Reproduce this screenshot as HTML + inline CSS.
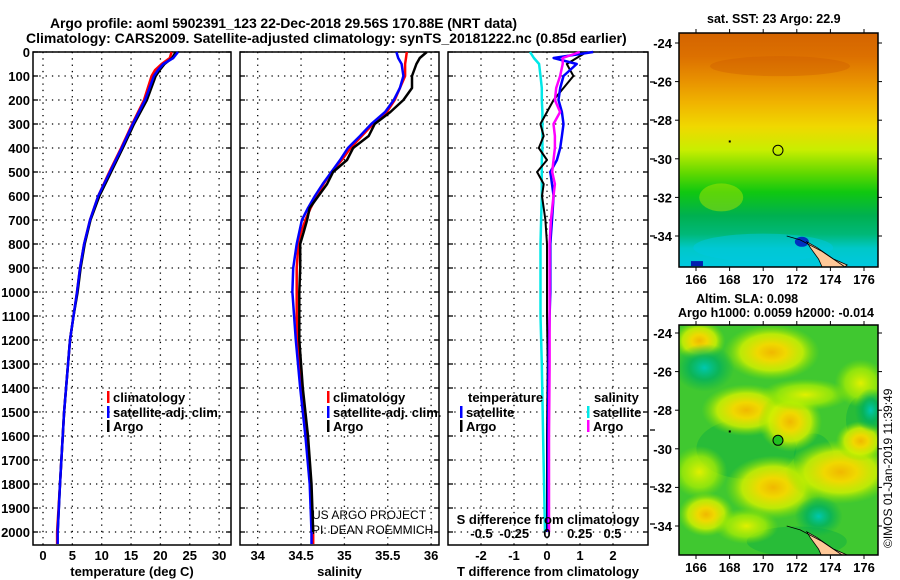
<!DOCTYPE html>
<html><head><meta charset="utf-8"><style>
html,body{margin:0;padding:0;background:#fff;}
svg{display:block;font-family:"Liberation Sans",sans-serif;font-weight:bold;}
</style></head><body>
<svg id="chart" width="900" height="580" viewBox="0 0 900 580">
<defs>
<linearGradient id="sstgrad" x1="0" y1="0" x2="0" y2="1">
<stop offset="0" stop-color="#d46400"/><stop offset="0.1" stop-color="#dc7000"/>
<stop offset="0.2" stop-color="#e89000"/><stop offset="0.3" stop-color="#f0b400"/>
<stop offset="0.4" stop-color="#f0d800"/><stop offset="0.5" stop-color="#c8ee00"/>
<stop offset="0.6" stop-color="#60d800"/><stop offset="0.68" stop-color="#10c810"/>
<stop offset="0.78" stop-color="#00b050"/><stop offset="0.86" stop-color="#00b878"/>
<stop offset="0.92" stop-color="#00c8c8"/><stop offset="1" stop-color="#00c8e0"/>
</linearGradient>
<radialGradient id="yb"><stop offset="0" stop-color="#f0b800"/><stop offset="0.3" stop-color="#f0d800"/><stop offset="0.65" stop-color="#d0f000" stop-opacity="0.85"/><stop offset="1" stop-color="#80e000" stop-opacity="0"/></radialGradient>
<radialGradient id="yw"><stop offset="0" stop-color="#e0f000"/><stop offset="0.6" stop-color="#b0f000" stop-opacity="0.7"/><stop offset="1" stop-color="#80e000" stop-opacity="0"/></radialGradient>
<radialGradient id="cb"><stop offset="0" stop-color="#00c8b0"/><stop offset="0.5" stop-color="#00b060" stop-opacity="0.8"/><stop offset="1" stop-color="#00b050" stop-opacity="0"/></radialGradient>
<clipPath id="m1c"><rect x="679" y="33" width="199" height="234"/></clipPath>
<clipPath id="m2c"><rect x="679" y="325" width="199" height="230"/></clipPath>
</defs>
<text x="50" y="28" font-size="14" textLength="467">Argo profile: aoml 5902391_123 22-Dec-2018 29.56S 170.88E (NRT data)</text>
<text x="26" y="43" font-size="14">Climatology: CARS2009. Satellite-adjusted climatology: synTS_20181222.nc (0.85d earlier)</text>
<g id="panels"></g>
<g id="maps"></g>
</svg>
<script>
// ---------- data ----------
const tDepth = [0,25,50,75,100,200,300,400,500,600,700,800,900,1000,1100,1200,1500,1800,2000,2050];
const tClim  = [21.9,21.6,20.2,19.1,18.5,17.2,15.2,13.3,11.3,9.4,8.0,7.0,6.3,5.8,5.2,4.6,3.6,2.9,2.4,2.4];
const tSat   = [23.0,22.2,20.5,19.6,18.9,17.4,15.3,13.4,11.4,9.4,8.0,7.0,6.3,5.8,5.2,4.6,3.6,2.9,2.5,2.5];
const tArgo  = [22.6,22.0,20.7,19.9,19.2,17.7,15.5,13.6,11.6,9.6,8.1,7.1,6.4,5.9,5.2,4.6,3.6,2.9,2.5];
const sDepth = [0,25,50,100,150,200,250,300,350,400,450,500,550,600,650,700,750,800,900,1000,1100,1200,1400,1600,1800,2000,2050];
const sClim  = [35.72,35.71,35.70,35.70,35.64,35.58,35.49,35.33,35.20,35.07,34.97,34.85,34.76,34.68,34.61,34.55,34.50,34.47,34.45,34.45,34.45,34.46,34.51,34.57,34.61,34.64,34.64];
const sSat   = [35.60,35.62,35.66,35.68,35.64,35.57,35.47,35.31,35.18,35.04,34.95,34.85,34.75,34.66,34.58,34.51,34.48,34.45,34.41,34.40,34.42,34.44,34.49,34.55,34.60,34.62,34.62];
const sArgo  = [35.95,35.87,35.83,35.78,35.78,35.68,35.53,35.35,35.28,35.10,35.03,34.87,34.80,34.70,34.60,34.57,34.53,34.49,34.49,34.48,34.48,34.48,34.52,34.58,34.62,34.64];
const dDepth = [0,25,50,100,150,200,250,300,350,400,450,500,550,600,700,800,1000,1100,1300,1600,2000];
const dTSat  = [1.4,0.2,0.9,0.5,0.4,0.35,0.45,0.5,0.45,0.4,0.3,0.1,0.15,0.2,0.15,0.1,0.1,0.08,0.05,0.03,0.03];
const dTArgo = [1.2,0.9,0.6,0.8,0.5,0.2,0.0,-0.2,-0.1,-0.25,0.0,-0.3,-0.1,-0.15,-0.05,0.0,0.0,0.0,0.02,0.0,0.0];
const dSSat  = [-0.13,-0.1,-0.06,-0.05,-0.04,-0.04,-0.035,-0.035,-0.035,-0.035,-0.04,-0.04,-0.04,-0.04,-0.045,-0.05,-0.05,-0.05,-0.04,-0.03,-0.015];
const dSArgo = [0.25,0.12,0.12,0.1,0.07,0.06,0.1,0.05,0.06,0.06,0.05,0.04,0.06,0.05,0.03,0.02,0.02,0.02,0.02,0.015,0.015];
const depthTicks = [0,100,200,300,400,500,600,700,800,900,1000,1100,1200,1300,1400,1500,1600,1700,1800,1900,2000];
const tTicks = [0,5,10,15,20,25,30];
const sTicks = [34,34.5,35,35.5,36];
const sTickLabels = ["34","34.5","35","35.5","36"];
const dtTicks = [-2,-1,0,1,2];
const dsTicks = [-0.5,-0.25,0,0.25,0.5];
const dsTickLabels = ["-0.5","-0.25","0","0.25","0.5"];
const lonTicks = [166,168,170,172,174,176];
const latTicks = [-24,-26,-28,-30,-32,-34];

// ---------- helpers ----------
const NS="http://www.w3.org/2000/svg";
const root=document.getElementById('panels');
function mk(tag,attrs,parent){const e=document.createElementNS(NS,tag);for(const k in attrs)e.setAttribute(k,attrs[k]);(parent||root).appendChild(e);return e;}
const Y0=52, PY=0.24, YB=545;
const yD = d => Y0 + d*PY;

function panel(x0,x1,xs,ticks,labels,xlabel,name){
  const g=mk('g',{});
  
  
  depthTicks.forEach(d=>{
    mk('line',{x1:x0,x2:x1,y1:yD(d),y2:yD(d),stroke:'#000','stroke-width':1.3,'stroke-dasharray':'1.3 5'},g);
    mk('line',{x1:x0,x2:x0+5,y1:yD(d),y2:yD(d),stroke:'#000','stroke-width':1.3},g);
    mk('line',{x1:x1-5,x2:x1,y1:yD(d),y2:yD(d),stroke:'#000','stroke-width':1.3},g);
  });
  ticks.forEach((v,i)=>{
    const x=xs(v);
    mk('line',{x1:x,x2:x,y1:Y0,y2:YB,stroke:'#000','stroke-width':1.3,'stroke-dasharray':'1.3 5'},g);
    if(labels){const t=mk('text',{x:x,y:560,'font-size':13,'text-anchor':'middle'},g);t.textContent=labels[i];
      
      }
  });
  mk('rect',{x:x0,y:Y0,width:x1-x0,height:YB-Y0,fill:'none',stroke:'#000','stroke-width':1.5},g);
  const t=mk('text',{x:(x0+x1)/2,y:576,'font-size':13,'text-anchor':'middle'},g);t.textContent=xlabel;
  
  
  return g;
}
function line(g,xs,vals,depths,color,w,name){
  const pts=vals.map((v,i)=>xs(v).toFixed(1)+','+yD(depths[i]).toFixed(1)).join(' ');
  const p=mk('polyline',{points:pts,fill:'none',stroke:color,'stroke-width':w,'stroke-linejoin':'round'},g);
  
  
}
function legend(g,x,y,color,label){
  mk('rect',{x:x,y:y-6,width:2.5,height:12,fill:color},g);
  const t=mk('text',{x:x+6,y:y+5,'font-size':13},g);t.textContent=label;
  
  
}

depthTicks.forEach(d=>{const t=mk('text',{x:30,y:yD(d)+5,'font-size':13,'text-anchor':'end'});t.textContent=d;
  
  });

// Panel 1: temperature
const xT = v => 43 + v*5.87;
const g1=panel(33,231,xT,tTicks,tTicks.map(String),'temperature (deg C)','temperature-panel');
line(g1,xT,tClim,tDepth,'#ff0000',2.5,'temperature-climatology-line');
line(g1,xT,tArgo,tDepth,'#000',2.5,'temperature-argo-line');
line(g1,xT,tSat,tDepth,'#0000ff',2.5,'temperature-satellite-line');
legend(g1,107,397,'#ff0000','climatology');legend(g1,107,412,'#0000ff','satellite-adj. clim.');legend(g1,107,426,'#000','Argo');

// Panel 2: salinity
const xS = v => 257.7 + (v-34)*86.7;
const g2=panel(240,439,xS,sTicks,sTickLabels,'salinity','salinity-panel');
line(g2,xS,sClim,sDepth,'#ff0000',2.5,'salinity-climatology-line');
line(g2,xS,sSat,sDepth,'#0000ff',2.5,'salinity-satellite-line');
line(g2,xS,sArgo,sDepth,'#000',2.5,'salinity-argo-line');
legend(g2,327,397,'#ff0000','climatology');legend(g2,327,412,'#0000ff','satellite-adj. clim.');legend(g2,327,426,'#000','Argo');
[['US ARGO PROJECT',519],['PI: DEAN ROEMMICH',534]].forEach(a=>{const t=mk('text',{x:312,y:a[1],'font-size':12,'font-weight':'normal'},g2);t.textContent=a[0];
  
  });

// Panel 3: differences
const xDT = v => 547 + v*33;
const xDS = v => 547 + v*131;
const g3=panel(448,648,xDT,dtTicks,dtTicks.map(String),'T difference from climatology','difference-panel');
line(g3,xDS,dSSat,dDepth,'#00e8e8',2.5,'salinity-satellite-diff-line');
line(g3,xDT,dTArgo,dDepth,'#000',2,'temperature-argo-diff-line');
line(g3,xDT,dTSat,dDepth,'#0000ff',2.5,'temperature-satellite-diff-line');
line(g3,xDS,dSArgo,dDepth,'#ff00ff',2.5,'salinity-argo-diff-line');
{const t=mk('text',{x:468,y:402,'font-size':13},g3);t.textContent='temperature';}
{const t=mk('text',{x:594,y:402,'font-size':13},g3);t.textContent='salinity';}
legend(g3,460,412,'#0000ff','satellite');legend(g3,460,426,'#000','Argo');
legend(g3,587,412,'#00e8e8','satellite');legend(g3,587,426,'#ff00ff','Argo');
{const t=mk('text',{x:548,y:524,'font-size':13,'text-anchor':'middle'},g3);t.textContent='S difference from climatology';}
dsTicks.forEach((v,i)=>{const t=mk('text',{x:xDS(v),y:538,'font-size':13,'text-anchor':'middle'},g3);t.textContent=dsTickLabels[i];
  
  });
[82,120,159,236,430,487,524].forEach(y=>mk('line',{x1:650,x2:655,y1:y,y2:y,stroke:'#000','stroke-width':1.3},g3));

// ---------- maps ----------
const mroot=document.getElementById('maps');
function map(top,bottom,lat24y,title,name,fillFn,circleFill){
  const g=mk('g',{},mroot);
  
  
  const lx = lon => 696 + (lon-166)*16.8;
  const ly = lat => lat24y + (-24-lat)*19.3;
  const inner=mk('g',{'clip-path':name==='sst-map'?'url(#m1c)':'url(#m2c)'},g);
  fillFn(inner,lx,ly,top,bottom);
  const c=mk('polygon',{points:[[172.6,-34.3],[173.2,-34.6],[174.2,-35.2],[175,-35.5],[174.6,-35.8],[173.6,-35.8],[173.3,-35.2],[172.8,-34.6]].map(p=>lx(p[0])+','+ly(p[1])).join(' '),fill:'#ffc898',stroke:'#000','stroke-width':0.8},inner);
  
  
  mk('polyline',{points:[[171.4,-34.0],[172.2,-34.2],[173.5,-34.8],[175.2,-35.8]].map(p=>lx(p[0])+','+ly(p[1])).join(' '),fill:'none',stroke:'#000','stroke-width':0.8},inner);
  mk('rect',{x:679,y:top,width:199,height:bottom-top,fill:'none',stroke:'#000','stroke-width':1.5},g);
  const ci=mk('circle',{cx:lx(170.88),cy:ly(-29.56),r:5,fill:circleFill,stroke:'#000','stroke-width':1},g);
  
  
  mk('rect',{x:lx(167.95),y:ly(-29.05),width:2,height:2,fill:'#000'},g);
  lonTicks.forEach(l=>{mk('line',{x1:lx(l),x2:lx(l),y1:top-4,y2:top,stroke:'#000'},g);mk('line',{x1:lx(l),x2:lx(l),y1:bottom,y2:bottom+4,stroke:'#000'},g);
    const t=mk('text',{x:lx(l),y:bottom+17,'font-size':13,'text-anchor':'middle'},g);t.textContent=l;
    
    });
  latTicks.forEach(l=>{mk('line',{x1:675,x2:679,y1:ly(l),y2:ly(l),stroke:'#000'},g);mk('line',{x1:878,x2:882,y1:ly(l),y2:ly(l),stroke:'#000'},g);
    const t=mk('text',{x:672,y:ly(l)+5,'font-size':13,'text-anchor':'end'},g);t.textContent=l;
    
    });
  title.forEach(tt=>{const t=mk('text',{x:tt[1],y:tt[2],'font-size':12.5},g);t.textContent=tt[0];
    
    });
}
map(33,267,43,[['sat. SST: 23 Argo: 22.9',707,23]],'sst-map',(g,lx,ly,t,b)=>{
  mk('rect',{x:679,y:t,width:199,height:b-t,fill:'url(#sstgrad)'},g);
  mk('ellipse',{cx:lx(171),cy:ly(-25.2),rx:70,ry:10,fill:'#cc5800',opacity:0.35},g);
  mk('ellipse',{cx:lx(167.5),cy:ly(-32),rx:22,ry:14,fill:'#a8e400',opacity:0.5},g);
  mk('ellipse',{cx:lx(170),cy:ly(-34.6),rx:70,ry:14,fill:'#00c8e0',opacity:0.5},g);
  mk('ellipse',{cx:lx(172.3),cy:ly(-34.3),rx:7,ry:5,fill:'#0030c0'},g);
  mk('rect',{x:lx(165.7),y:ly(-35.3),width:12,height:5,fill:'#0020b0'},g);
},'none');
map(325,555,333,[['Altim. SLA: 0.098',696,303],['Argo h1000: 0.0059 h2000: -0.014',678,317]],'sla-map',(g,lx,ly,t,b)=>{
  mk('rect',{x:679,y:t,width:199,height:b-t,fill:'#40c830'},g);
  [[169,-30,50,30],[173,-30.5,20,25],[172,-34.8,50,15],[176,-28.5,18,25]].forEach(b=>mk('ellipse',{cx:lx(b[0]),cy:ly(b[1]),rx:b[2],ry:b[3],fill:'#10b040',opacity:0.5},g));
  [[170.5,-25,48,28,'yb'],[166.2,-24.4,26,20,'yb'],[169,-28,45,26,'yb'],[171.6,-28.6,32,30,'yb'],[170.6,-32,48,32,'yb'],[174.6,-31.2,55,32,'yb'],[175.8,-29.6,25,20,'yb'],[166.2,-31.2,28,26,'yw'],[166.6,-33.4,28,22,'yb'],[169,-34,32,18,'yw'],[175.8,-26.6,26,24,'yw'],[172.5,-27.2,45,16,'yw']].forEach(b=>mk('ellipse',{cx:lx(b[0]),cy:ly(b[1]),rx:b[2],ry:b[3],fill:'url(#'+b[4]+')'},g));
  [[166.5,-25.8,30,24],[173.3,-33.5,24,20],[176.4,-28,16,22]].forEach(b=>mk('ellipse',{cx:lx(b[0]),cy:ly(b[1]),rx:b[2],ry:b[3],fill:'url(#cb)'},g));
},'#20c020');
{const t=mk('text',{x:0,y:0,'font-size':12,'font-weight':'normal',transform:'translate(892,548) rotate(-90)'},mroot);t.textContent='©IMOS 01-Jan-2019 11:39:49';
 
 }
</script>
</body></html>
